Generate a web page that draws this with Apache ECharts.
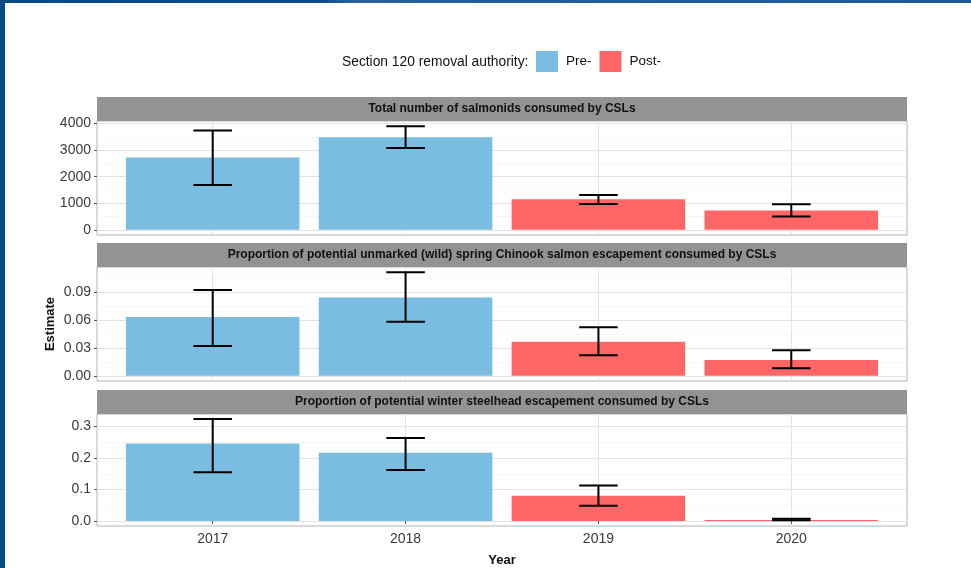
<!DOCTYPE html>
<html>
<head>
<meta charset="utf-8">
<script src="https://cdn.jsdelivr.net/npm/echarts@6/dist/echarts.min.js"></script>
<style>
  html, body { margin: 0; padding: 0; background: #ffffff; }
  #chart { width: 971px; height: 568px; }
</style>
</head>
<body>
<div id="chart"></div>
<script>
// Years and the removal-authority period each belongs to
const years = ['2017', '2018', '2019', '2020'];
const authority = ['Pre-', 'Pre-', 'Post-', 'Post-'];

// Total number of salmonids consumed (estimate with lower/upper bounds)
const salmonidsEst = [2720, 3480, 1150, 730];
const salmonidsLow = [1690, 3080, 970, 500];
const salmonidsHigh = [3740, 3900, 1310, 960];

// Proportion of unmarked spring Chinook escapement consumed
const chinookEst = [0.063, 0.084, 0.0365, 0.017];
const chinookLow = [0.032, 0.058, 0.022, 0.008];
const chinookHigh = [0.092, 0.111, 0.052, 0.0275];

// Proportion of winter steelhead escapement consumed
const steelheadEst = [0.246, 0.217, 0.080, 0.003];
const steelheadLow = [0.155, 0.162, 0.048, 0.002];
const steelheadHigh = [0.324, 0.264, 0.113, 0.007];

// Tick labels per panel
const salmonidsTicks = [0, 1000, 2000, 3000, 4000];
const salmonidsMinor = [500, 1500, 2500, 3500];
const chinookTicks = [0, 0.03, 0.06, 0.09];
const chinookMinor = [0.015, 0.045, 0.075, 0.105];
const steelheadTicks = [0, 0.1, 0.2, 0.3];
const steelheadMinor = [0.05, 0.15, 0.25];

const panelTitles = [
  'Total number of salmonids consumed by CSLs',
  'Proportion of potential unmarked (wild) spring Chinook salmon escapement consumed by CSLs',
  'Proportion of potential winter steelhead escapement consumed by CSLs'
];
const legendTitle = 'Section 120 removal authority:';

const COLORS = { 'Pre-': '#7bbde0', 'Post-': '#ff6666' };
const FONT = '"Liberation Sans", Arial, sans-serif';

const panels = [
  { est: salmonidsEst, low: salmonidsLow, high: salmonidsHigh, ticks: salmonidsTicks, minor: salmonidsMinor, fmt: v => String(Math.round(v)) },
  { est: chinookEst, low: chinookLow, high: chinookHigh, ticks: chinookTicks, minor: chinookMinor, fmt: v => v.toFixed(2) },
  { est: steelheadEst, low: steelheadLow, high: steelheadHigh, ticks: steelheadTicks, minor: steelheadMinor, fmt: v => v.toFixed(1) }
];

// layout
const LEFT = 97, RIGHT = 64, PANEL_W = 971 - LEFT - RIGHT;
const STRIP_H = 24;
const gridTops = [121, 267, 414];
const GRID_H = 114;
const X_MIN = 0.4, X_MAX = 4.6;
const BAR_W = PANEL_W * 0.9 / (X_MAX - X_MIN);

const grids = [], xAxes = [], yAxes = [], series = [], graphics = [];

// slide frame
graphics.push({ type: 'rect', silent: true, z: 100, shape: { x: 0, y: 0, width: 5, height: 568 }, style: { fill: '#064a86' } });
graphics.push({ type: 'rect', silent: true, z: 100, shape: { x: 0, y: 0, width: 971, height: 3 },
  style: { fill: new echarts.graphic.LinearGradient(0, 0, 1, 0, [
    { offset: 0, color: '#064a86' }, { offset: 0.33, color: '#0b4c88' }, { offset: 0.36, color: '#2a5f98' }, { offset: 1, color: '#1f5a94' }
  ]) } });

panels.forEach((p, i) => {
  const top = gridTops[i];
  const maxV = Math.max.apply(null, p.high);
  const yMin = -0.05 * maxV, yMax = 1.05 * maxV;
  const isLast = i === panels.length - 1;

  grids.push({ left: LEFT, right: RIGHT, top: top, height: GRID_H, show: true, borderColor: '#b3b3b3', borderWidth: 1, backgroundColor: '#fff' });

  // strip header
  graphics.push({ type: 'rect', silent: true, shape: { x: LEFT, y: top - STRIP_H, width: PANEL_W, height: STRIP_H }, style: { fill: '#939393' } });
  graphics.push({ type: 'text', silent: true, x: LEFT + PANEL_W / 2, y: top - STRIP_H / 2,
    style: { text: panelTitles[i], fill: '#111', font: 'bold 12px ' + FONT, align: 'center', verticalAlign: 'middle' } });

  // x axis (categories on a continuous scale so the outer padding is 0.6 of a step)
  xAxes.push({
    type: 'value', gridIndex: i, min: X_MIN, max: X_MAX,
    axisLine: { show: false },
    axisTick: { show: isLast, length: 3, lineStyle: { color: '#555' }, customValues: [1, 2, 3, 4] },
    axisLabel: { show: isLast, customValues: [1, 2, 3, 4], formatter: v => years[Math.round(v) - 1] || '',
      color: '#3a3a3a', fontSize: 14, fontFamily: FONT, margin: 6 },
    splitLine: { show: true, lineStyle: { color: '#e3e3e3', width: 1 } },
    name: isLast ? 'Year' : '', nameLocation: 'middle', nameGap: 28, nameMoveOverlap: false,
    nameTextStyle: { fontWeight: 'bold', fontSize: 13, fontFamily: FONT, color: '#111' }
  });
  xAxes.push({
    type: 'value', gridIndex: i, min: X_MIN, max: X_MAX, show: false
  });

  // y axis with major gridlines
  yAxes.push({
    type: 'value', gridIndex: i, min: yMin, max: yMax,
    axisLine: { show: false },
    axisTick: { show: true, length: 3, lineStyle: { color: '#555' }, customValues: p.ticks },
    axisLabel: { customValues: p.ticks, formatter: p.fmt, color: '#3a3a3a', fontSize: 14, fontFamily: FONT, margin: 6 },
    splitLine: { show: true, lineStyle: { color: '#e3e3e3', width: 1 } },
    name: i === 1 ? 'Estimate' : '', nameLocation: 'middle', nameRotate: 90, nameGap: 40, nameMoveOverlap: false,
    nameTextStyle: { fontWeight: 'bold', fontSize: 13, fontFamily: FONT, color: '#111' }
  });
  // companion y axis carrying the minor gridlines
  yAxes.push({
    type: 'value', gridIndex: i, min: yMin, max: yMax, position: 'left',
    axisLine: { show: false },
    axisTick: { show: false, customValues: p.minor },
    axisLabel: { show: false, customValues: p.minor },
    splitLine: { show: true, lineStyle: { color: '#f0f0f0', width: 0.6 } }
  });

  const xIdx = i * 2, yIdx = i * 2;
  ['Pre-', 'Post-'].forEach(name => {
    const data = [];
    years.forEach((y, k) => { if (authority[k] === name) data.push([k + 1, p.est[k]]); });
    series.push({
      type: 'bar', name: name, xAxisIndex: xIdx, yAxisIndex: yIdx,
      data: data, barWidth: BAR_W, barGap: '-100%',
      itemStyle: { color: COLORS[name] }, silent: true, z: 2
    });
  });

  series.push({
    type: 'custom', xAxisIndex: xIdx, yAxisIndex: yIdx, silent: true, z: 5,
    data: years.map((y, k) => [k + 1, p.low[k], p.high[k]]),
    encode: { x: 0, y: [1, 2] },
    renderItem: function (params, api) {
      const x = api.value(0);
      const lo = api.coord([x, api.value(1)]);
      const hi = api.coord([x, api.value(2)]);
      const half = api.size([0.1, 0])[0];
      const st = { stroke: '#000', lineWidth: 2 };
      return {
        type: 'group',
        children: [
          { type: 'line', shape: { x1: lo[0], y1: lo[1], x2: hi[0], y2: hi[1] }, style: st },
          { type: 'line', shape: { x1: lo[0] - half, y1: lo[1], x2: lo[0] + half, y2: lo[1] }, style: st },
          { type: 'line', shape: { x1: hi[0] - half, y1: hi[1], x2: hi[0] + half, y2: hi[1] }, style: st }
        ]
      };
    }
  });
});

const chart = echarts.init(document.getElementById('chart'), null, { renderer: 'canvas' });
chart.setOption({
  animation: false,
  backgroundColor: '#ffffff',
  textStyle: { fontFamily: FONT },
  title: {
    text: legendTitle, left: 342, top: 55, padding: 0,
    textStyle: { fontSize: 13.8, fontWeight: 'normal', color: '#111', fontFamily: FONT }
  },
  legend: {
    data: ['Pre-', 'Post-'], left: 536, top: 51, padding: 0,
    icon: 'rect', itemWidth: 22, itemHeight: 21, itemGap: 8,
    selectedMode: false,
    textStyle: { fontSize: 13.5, color: '#111', fontFamily: FONT, padding: [0, 0, 0, 3] }
  },
  grid: grids,
  xAxis: xAxes,
  yAxis: yAxes,
  series: series,
  graphic: graphics
});
</script>
</body>
</html>
